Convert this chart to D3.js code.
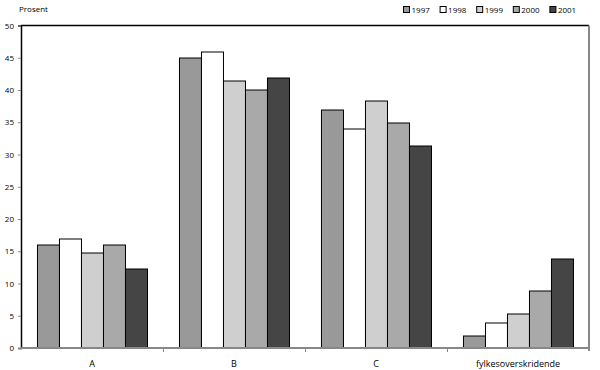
<!DOCTYPE html>
<html>
<head>
<meta charset="utf-8">
<script src="https://cdn.jsdelivr.net/npm/d3@7"></script>
<style>
    body { margin: 0; background: #fff; }
    svg text { font-family: "Open Sans", "Noto Sans", sans-serif; fill: #000; }
</style>
</head>
<body>
<div id="chart"></div>
<script>

// Data
var categories = ["A", "B", "C", "fylkesoverskridende"];
var years = ["1997", "1998", "1999", "2000", "2001"];
var values1997 = [16, 45, 37, 1.9];
var values1998 = [17, 46, 34, 3.9];
var values1999 = [14.8, 41.4, 38.3, 5.3];
var values2000 = [16, 40, 35, 8.9];
var values2001 = [12.4, 42, 31.4, 13.9];
var yTicks = [0, 5, 10, 15, 20, 25, 30, 35, 40, 45, 50];

var series = [values1997, values1998, values1999, values2000, values2001];
var colors = ["#999999", "#ffffff", "#cfcfcf", "#a9a9a9", "#454545"];

var width = 600, height = 370;
var margin = { top: 25.5, right: 11, bottom: 22, left: 21 };
var innerW = width - margin.left - margin.right;
var innerH = height - margin.top - margin.bottom;

var svg = d3.select("#chart").append("svg")
    .attr("width", width)
    .attr("height", height);

var g = svg.append("g")
    .attr("transform", "translate(" + margin.left + "," + margin.top + ")");

var x0 = d3.scaleBand()
    .domain(categories)
    .range([0, innerW])
    .paddingInner(0.225)
    .paddingOuter(0.1125);

var x1 = d3.scaleBand()
    .domain(years)
    .range([0, x0.bandwidth()]);

var y = d3.scaleLinear()
    .domain([0, 50])
    .range([innerH, 0]);

// bars
var groups = g.selectAll(".cat")
    .data(categories)
    .enter().append("g")
    .attr("class", "cat")
    .attr("transform", function(d) { return "translate(" + x0(d) + ",0)"; });

groups.selectAll("rect")
    .data(function(d, i) {
        return years.map(function(yr, j) { return { year: yr, value: series[j][i], idx: j }; });
    })
    .enter().append("rect")
    .attr("x", function(d) { return Math.round(x1(d.year)) + 0.5; })
    .attr("y", function(d) { return Math.round(y(d.value)) + 0.5; })
    .attr("width", function(d) { return Math.round(x1.bandwidth()); })
    .attr("height", function(d) { return innerH - Math.round(y(d.value)) - 0.5; })
    .attr("fill", function(d) { return colors[d.idx]; })
    .attr("stroke", "#000")
    .attr("stroke-width", 1);

// frame: top black, right gray
g.append("line")
    .attr("x1", 0).attr("x2", innerW)
    .attr("y1", 0).attr("y2", 0)
    .attr("stroke", "#000").attr("stroke-width", 1.5);
g.append("line")
    .attr("x1", innerW).attr("x2", innerW)
    .attr("y1", 0).attr("y2", innerH + 3)
    .attr("stroke", "#888").attr("stroke-width", 2);

// y axis
var yAxis = g.append("g")
    .call(d3.axisLeft(y).tickValues(yTicks).tickSize(3).tickPadding(4));
yAxis.select(".domain").attr("stroke", "#000").attr("stroke-width", 1.5);
yAxis.selectAll(".tick line").attr("stroke", "#888");
yAxis.selectAll("text").style("font-size", "8px");

// x axis
var xAxis = g.append("g")
    .attr("transform", "translate(0," + innerH + ")");
xAxis.append("line")
    .attr("x1", 0).attr("x2", innerW)
    .attr("stroke", "#888").attr("stroke-width", 2);
xAxis.selectAll(".sep")
    .data(categories.slice(1))
    .enter().append("line")
    .attr("class", "sep")
    .attr("x1", function(d) { return Math.round(x0(d) - x0.step() * x0.paddingInner() / 2) + 0.5; })
    .attr("x2", function(d) { return Math.round(x0(d) - x0.step() * x0.paddingInner() / 2) + 0.5; })
    .attr("y1", 0).attr("y2", 4)
    .attr("stroke", "#888");
xAxis.selectAll(".lab")
    .data(categories)
    .enter().append("text")
    .attr("class", "lab")
    .attr("x", function(d) { return x0(d) + x0.bandwidth() / 2; })
    .attr("y", 19)
    .attr("text-anchor", "middle")
    .style("font-size", "9px")
    .text(function(d) { return d; });

// unit label
svg.append("text")
    .attr("x", 19)
    .attr("y", 12)
    .style("font-size", "8px")
    .text("Prosent");

// legend
var legend = svg.append("g")
    .attr("transform", "translate(403,5)");
var item = legend.selectAll(".leg")
    .data(years)
    .enter().append("g")
    .attr("class", "leg")
    .attr("transform", function(d, i) { return "translate(" + (i * 36.6) + ",0)"; });
item.append("rect")
    .attr("x", 0.5).attr("y", 1.5)
    .attr("width", 6).attr("height", 6)
    .attr("fill", function(d, i) { return colors[i]; })
    .attr("stroke", "#000");
item.append("text")
    .attr("x", 8.5)
    .attr("y", 8)
    .style("font-size", "8px")
    .text(function(d) { return d; });

</script>
</body>
</html>
